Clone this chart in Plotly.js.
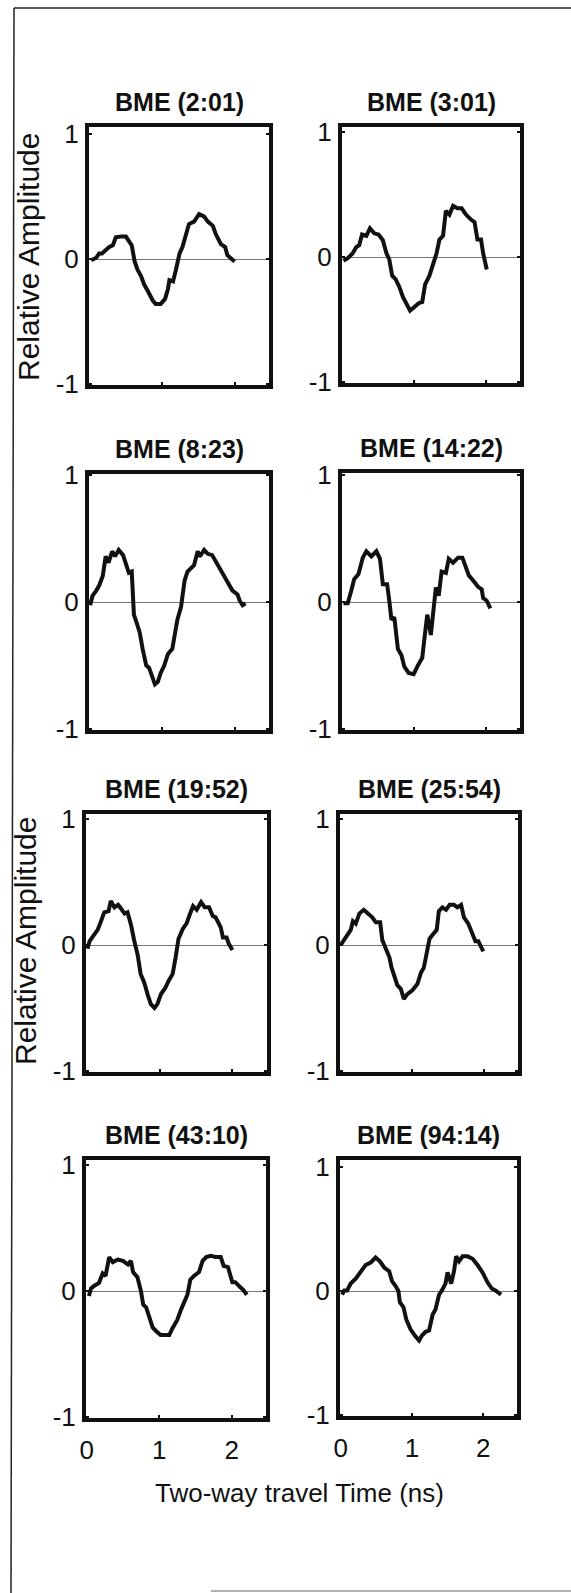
<!DOCTYPE html>
<html><head><meta charset="utf-8">
<script src="https://cdn.plot.ly/plotly-3.0.1.min.js"></script>
<style>html,body{margin:0;padding:0;background:#fff;} #chart{width:571px;height:1593px;}</style>
</head><body><div id="chart"></div>
<script>
// ---- data ----
const titles = ["BME (2:01)", "BME (3:01)", "BME (8:23)", "BME (14:22)", "BME (19:52)", "BME (25:54)", "BME (43:10)", "BME (94:14)"];

const t201 = [0.02,0.09,0.13,0.17,0.23,0.27,0.32,0.36,0.43,0.50,0.55,0.58,0.62,0.66,0.71,0.75,0.80,0.87,0.91,0.98,1.04,1.08,1.10,1.15,1.19,1.24,1.28,1.33,1.37,1.44,1.51,1.58,1.63,1.70,1.74,1.81,1.87,1.90,1.95,2.00];
const a201 = [-0.01,0.01,0.045,0.045,0.076,0.096,0.11,0.174,0.18,0.18,0.135,0.11,-0.02,-0.086,-0.138,-0.203,-0.255,-0.333,-0.36,-0.36,-0.32,-0.24,-0.17,-0.18,-0.086,0.045,0.096,0.2,0.28,0.30,0.36,0.34,0.30,0.266,0.20,0.12,0.096,0.03,0.005,-0.02];

const t301 = [0.01,0.07,0.14,0.19,0.23,0.27,0.33,0.38,0.44,0.50,0.56,0.61,0.65,0.69,0.74,0.79,0.84,0.88,0.94,1.00,1.06,1.11,1.15,1.21,1.26,1.31,1.35,1.40,1.44,1.49,1.54,1.60,1.66,1.72,1.79,1.84,1.88,1.93,1.96,2.01];
const a301 = [-0.03,-0.01,0.03,0.08,0.095,0.18,0.17,0.23,0.19,0.18,0.135,0.03,-0.02,-0.15,-0.18,-0.24,-0.32,-0.37,-0.43,-0.40,-0.37,-0.36,-0.22,-0.15,-0.07,0.03,0.14,0.17,0.37,0.34,0.41,0.39,0.39,0.34,0.30,0.28,0.14,0.14,0.03,-0.10];

const t823 = [0.005,0.04,0.09,0.13,0.18,0.22,0.26,0.31,0.35,0.40,0.46,0.49,0.54,0.58,0.61,0.64,0.69,0.73,0.78,0.82,0.86,0.90,0.94,0.98,1.03,1.08,1.14,1.17,1.21,1.26,1.31,1.35,1.40,1.44,1.49,1.52,1.58,1.63,1.69,1.74,1.81,1.86,1.93,1.97,2.04,2.07,2.11,2.15];
const a823 = [-0.025,0.05,0.09,0.13,0.205,0.36,0.31,0.40,0.36,0.41,0.37,0.31,0.23,0.24,-0.10,-0.15,-0.24,-0.37,-0.50,-0.52,-0.59,-0.65,-0.63,-0.56,-0.50,-0.41,-0.37,-0.28,-0.14,-0.04,0.17,0.24,0.27,0.29,0.40,0.36,0.41,0.38,0.37,0.32,0.26,0.21,0.14,0.09,0.06,0.01,-0.025,-0.01];

const t1422 = [0.01,0.07,0.12,0.16,0.22,0.28,0.33,0.40,0.47,0.52,0.56,0.62,0.65,0.68,0.72,0.77,0.82,0.86,0.92,0.99,1.05,1.11,1.14,1.18,1.23,1.26,1.30,1.34,1.38,1.44,1.48,1.54,1.61,1.67,1.73,1.76,1.82,1.89,1.94,1.96,2.01,2.06];
const a1422 = [-0.01,-0.01,0.09,0.18,0.22,0.35,0.40,0.36,0.40,0.34,0.14,0.14,0.01,-0.14,-0.12,-0.37,-0.42,-0.51,-0.56,-0.57,-0.50,-0.44,-0.29,-0.10,-0.26,-0.12,0.115,0.05,0.24,0.23,0.34,0.31,0.35,0.35,0.27,0.21,0.17,0.12,0.10,0.03,0.01,-0.05];

const t1952 = [0.01,0.04,0.10,0.15,0.19,0.24,0.30,0.33,0.38,0.43,0.47,0.52,0.56,0.61,0.65,0.70,0.74,0.79,0.84,0.88,0.93,0.97,1.02,1.08,1.12,1.18,1.22,1.26,1.32,1.37,1.42,1.46,1.51,1.57,1.62,1.68,1.73,1.77,1.84,1.87,1.92,1.95,2.00];
const a1952 = [-0.03,0.03,0.08,0.12,0.18,0.26,0.27,0.35,0.30,0.32,0.29,0.25,0.26,0.155,0.04,-0.08,-0.23,-0.30,-0.40,-0.47,-0.50,-0.47,-0.39,-0.34,-0.29,-0.23,-0.10,0.05,0.13,0.17,0.25,0.31,0.28,0.34,0.30,0.30,0.23,0.22,0.14,0.06,0.06,0.01,-0.04];

const t2554 = [0.00,0.05,0.10,0.14,0.17,0.21,0.26,0.32,0.38,0.44,0.49,0.55,0.58,0.63,0.68,0.71,0.75,0.79,0.84,0.88,0.93,1.00,1.07,1.12,1.16,1.20,1.24,1.28,1.34,1.37,1.42,1.47,1.52,1.58,1.63,1.68,1.72,1.78,1.84,1.88,1.92,1.99];
const a2554 = [0.00,0.04,0.08,0.12,0.19,0.17,0.25,0.28,0.25,0.22,0.18,0.18,0.04,-0.03,-0.10,-0.18,-0.25,-0.32,-0.35,-0.43,-0.39,-0.36,-0.31,-0.22,-0.18,-0.08,0.05,0.08,0.12,0.27,0.30,0.28,0.32,0.32,0.30,0.32,0.22,0.17,0.09,0.03,0.03,-0.05];

const t4310 = [0.03,0.06,0.10,0.17,0.22,0.26,0.31,0.36,0.43,0.50,0.57,0.61,0.64,0.70,0.75,0.78,0.82,0.86,0.91,0.96,1.02,1.09,1.14,1.18,1.25,1.30,1.36,1.39,1.43,1.48,1.55,1.60,1.65,1.71,1.78,1.85,1.89,1.95,2.01,2.05,2.12,2.16,2.21];
const a4310 = [-0.04,0.02,0.04,0.065,0.14,0.12,0.27,0.23,0.25,0.24,0.21,0.24,0.15,0.11,-0.005,-0.11,-0.13,-0.20,-0.29,-0.32,-0.35,-0.35,-0.35,-0.30,-0.23,-0.15,-0.08,-0.03,0.09,0.12,0.15,0.24,0.27,0.28,0.27,0.27,0.20,0.19,0.07,0.07,0.03,0.01,-0.03];

const t9414 = [0.02,0.05,0.09,0.14,0.21,0.28,0.35,0.42,0.49,0.55,0.61,0.68,0.72,0.77,0.81,0.83,0.88,0.92,0.98,1.04,1.10,1.14,1.19,1.24,1.29,1.33,1.38,1.42,1.47,1.50,1.55,1.59,1.62,1.66,1.71,1.78,1.85,1.92,1.99,2.06,2.12,2.17,2.25];
const a9414 = [-0.03,0.005,0.005,0.06,0.10,0.15,0.21,0.23,0.27,0.24,0.19,0.16,0.08,0.04,0.0,-0.09,-0.13,-0.23,-0.31,-0.36,-0.40,-0.36,-0.33,-0.32,-0.19,-0.15,-0.03,0.005,0.06,0.15,0.06,0.16,0.28,0.24,0.28,0.28,0.26,0.21,0.15,0.07,0.02,0.005,-0.03];

const xTickVals = [0, 1, 2];
const xTickText = ["0", "1", "2"];
const yTickVals = [-1, 0, 1];
const yTickText = ["-1", "0", "1"];
const xLabel = "Two-way travel Time (ns)";
const yLabel = "Relative Amplitude";

// ---- layout helpers ----
const series = [[t201,a201],[t301,a301],[t823,a823],[t1422,a1422],[t1952,a1952],[t2554,a2554],[t4310,a4310],[t9414,a9414]];
const W = 571, H = 1593, LW = 4, XSPAN = 2.54, EPS = 0.01;
// frame boxes in px: [left, right, top, bottom, zeroY]
const boxes = [
  [87,271,125,387,259],[340,522,125,385,257],
  [87,271,472,732,602],[340,522,471,732,602],
  [84,269,812,1074,945],[338,520,812,1074,945],
  [84,268,1158,1420,1291],[338,519,1158,1418,1291]
];
const FONT = "Liberation Sans, Arial, Helvetica, sans-serif";

const traces = [];
const layout = {
  width: W, height: H, margin: {l:0, r:0, t:0, b:0},
  paper_bgcolor: "#fff", plot_bgcolor: "#fff", showlegend: false,
  font: {family: FONT, color: "#111"},
  annotations: [], shapes: []
};

boxes.forEach((b, i) => {
  const [L, R, T, B, Z] = b;
  const n = i === 0 ? "" : String(i + 1);
  const innerW = R - L - LW;
  const kx = (R - L) / XSPAN;
  const lowY = -1 - EPS;
  const upY = Math.max(1 + EPS, (Z - T - LW/2) / (B - LW/2 - Z) * (1 + EPS));
  traces.push({
    x: series[i][0], y: series[i][1], type: "scatter", mode: "lines",
    xaxis: "x" + n, yaxis: "y" + n,
    line: {color: "#111", width: 4, shape: "linear"},
    hoverinfo: "skip"
  });
  const bottomRow = i >= 6;
  layout["xaxis" + n] = {
    domain: [(L + LW/2) / W, (R - LW/2) / W],
    range: [-EPS, -EPS + innerW / kx],
    anchor: "y" + n,
    showline: true, linecolor: "#111", linewidth: LW, mirror: true,
    showgrid: false, zeroline: false,
    ticks: "inside", ticklen: 3, tickwidth: 2, tickcolor: "#111",
    tickvals: xTickVals, ticktext: xTickText,
    showticklabels: bottomRow,
    tickfont: {size: 26, family: FONT, color: "#111"},
    ticklabelstandoff: 6,
    fixedrange: true
  };
  layout["yaxis" + n] = {
    domain: [1 - (B - LW/2) / H, 1 - (T + LW/2) / H],
    range: [lowY, upY],
    anchor: "x" + n,
    showline: true, linecolor: "#111", linewidth: LW, mirror: "ticks",
    showgrid: false,
    zeroline: true, zerolinecolor: "#777", zerolinewidth: 1,
    ticks: "inside", ticklen: 3, tickwidth: 2, tickcolor: "#111",
    tickvals: yTickVals, ticktext: yTickText,
    tickfont: {size: 26, family: FONT, color: "#111"},
    ticklabelstandoff: 1,
    fixedrange: true
  };
  layout.annotations.push({
    text: "<b>" + titles[i] + "</b>", xref: "paper", yref: "paper",
    x: (L + R) / 2 / W, y: 1 - (T - 23) / H, xanchor: "center", yanchor: "middle",
    showarrow: false, font: {size: 25, family: FONT, color: "#111"}
  });
});

// shared axis labels
[[28, 257], [26, 941]].forEach(p => {
  layout.annotations.push({
    text: yLabel, xref: "paper", yref: "paper",
    x: p[0] / W, y: 1 - p[1] / H, xanchor: "center", yanchor: "middle",
    textangle: -90, showarrow: false, font: {size: 30, family: FONT, color: "#111"}
  });
});
layout.annotations.push({
  text: xLabel, xref: "paper", yref: "paper",
  x: 299 / W, y: 1 - 1493 / H, xanchor: "center", yanchor: "middle",
  showarrow: false, font: {size: 26, family: FONT, color: "#111"}
});

// page border of the scanned figure
layout.shapes.push(
  {type: "line", xref: "paper", yref: "paper", x0: 14/W, y0: 1 - 8/H, x1: 1, y1: 1 - 8/H, line: {color: "#222", width: 1.5}},
  {type: "line", xref: "paper", yref: "paper", x0: 14/W, y0: 1 - 8/H, x1: 11/W, y1: 0, line: {color: "#222", width: 1.5}},
  {type: "line", xref: "paper", yref: "paper", x0: 211/W, y0: 1 - 1591/H, x1: 1, y1: 1 - 1591/H, line: {color: "#999", width: 1.5}}
);

Plotly.newPlot("chart", traces, layout, {displayModeBar: false, staticPlot: true});
</script>
</body></html>
